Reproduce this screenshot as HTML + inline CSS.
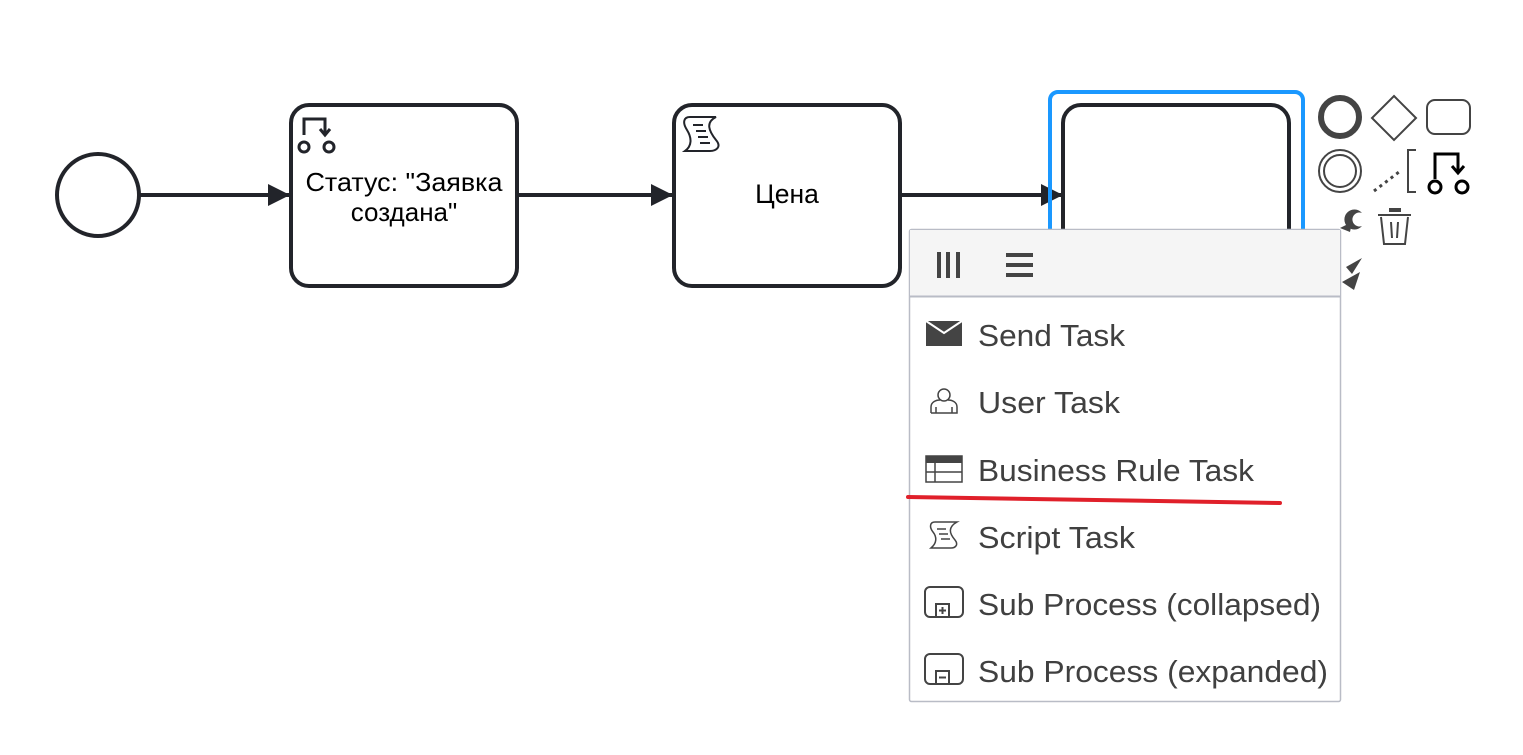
<!DOCTYPE html>
<html><head><meta charset="utf-8"><style>
html,body{margin:0;padding:0;background:#fff;}
svg{display:block;}
</style></head><body>
<svg width="1523" height="755" viewBox="0 0 1523 755" xmlns="http://www.w3.org/2000/svg">
<defs>
<marker id="ar" viewBox="0 0 20 20" refX="20" refY="10" markerWidth="22" markerHeight="22" markerUnits="userSpaceOnUse" orient="auto">
<path d="M0,0 L20,10 L0,20 Z" fill="#22242a"/>
</marker>
</defs>
<circle cx="98" cy="195" r="41" fill="#fff" stroke="#22242a" stroke-width="4"/>
<g stroke="#22242a" stroke-width="4" fill="none">
<line x1="140" y1="195" x2="290" y2="195" marker-end="url(#ar)"/>
<line x1="518" y1="195" x2="673" y2="195" marker-end="url(#ar)"/>
<line x1="901" y1="195" x2="1063" y2="195" marker-end="url(#ar)"/>
</g>
<rect x="291" y="105" width="226" height="181" rx="18" fill="#fff" stroke="#22242a" stroke-width="4"/>
<g stroke="#22242a" stroke-width="3" fill="none">
<path d="M304,135 V119 H325 V134"/><path d="M320,129 L325,135 L330,129"/>
<circle cx="304" cy="147" r="5"/><circle cx="329" cy="147" r="5"/>
</g>
<text x="404" y="191" font-family="Liberation Sans, sans-serif" font-size="26" text-anchor="middle" fill="#000" textLength="197" lengthAdjust="spacingAndGlyphs">Статус: "Заявка</text>
<text x="404" y="221" font-family="Liberation Sans, sans-serif" font-size="26" text-anchor="middle" fill="#000">создана"</text>
<rect x="674" y="105" width="226" height="181" rx="18" fill="#fff" stroke="#22242a" stroke-width="4"/>
<g stroke="#22242a" stroke-width="2" fill="none">
<path d="M690,117 H716 C706,122 708,130 716,140 C722,147 716,151 710,151 H685 C692,146 692,138 687,130 C682,122 684,117 690,117Z"/>
<line x1="693" y1="125" x2="703" y2="125"/><line x1="696" y1="131" x2="706" y2="131"/><line x1="698" y1="137" x2="708" y2="137"/><line x1="700" y1="143" x2="710" y2="143"/>
</g>
<text x="787" y="203" font-family="Liberation Sans, sans-serif" font-size="26.5" text-anchor="middle" fill="#000">Цена</text>
<rect x="1050" y="92" width="253" height="200" rx="8" fill="none" stroke="#1a98ff" stroke-width="4"/>
<rect x="1063" y="105" width="226" height="181" rx="18" fill="#fff" stroke="#22242a" stroke-width="4"/>
<circle cx="1340" cy="117" r="19" fill="none" stroke="#444" stroke-width="6"/>
<path d="M1394,96 L1416,118 L1394,140 L1372,118 Z" fill="none" stroke="#444" stroke-width="2"/>
<rect x="1427" y="100" width="43" height="34" rx="8" fill="none" stroke="#444" stroke-width="2"/>
<circle cx="1340" cy="171" r="21" fill="none" stroke="#444" stroke-width="2"/>
<circle cx="1340" cy="171" r="16" fill="none" stroke="#444" stroke-width="2"/>
<line x1="1374" y1="191" x2="1399" y2="172" stroke="#444" stroke-width="3" stroke-dasharray="3,4"/>
<path d="M1416,150 H1408 V192 H1416" fill="none" stroke="#444" stroke-width="2"/>
<g stroke="#000" stroke-width="3" fill="none">
<path d="M1435,179 V154 H1458 V172"/><path d="M1452,166 L1458,173 L1464,166"/>
<circle cx="1435" cy="187" r="6"/><circle cx="1462" cy="187" r="6"/>
</g>
<path d="M1362,213 A10,10 0 1,0 1362,226 A7,7 0 1,1 1362,213Z" fill="#444"/>
<path d="M1340,228 L1352,222 L1350,232Z" fill="#444"/>
<g stroke="#444" stroke-width="2" fill="none">
<path d="M1378,215 H1411"/><path d="M1390,212 V209 H1400 V212" fill="#444"/>
<path d="M1381,217 L1384,244 H1405 L1408,217"/>
<line x1="1391" y1="222" x2="1392" y2="238"/><line x1="1398" y1="222" x2="1397" y2="238"/>
</g>
<path d="M1346,267 L1362,258 L1352,274Z M1342,282 L1360,272 L1354,290Z" fill="#444"/>
<rect x="909.5" y="229.5" width="431" height="472" rx="2" fill="#fff" stroke="#b9bcc6" stroke-width="1.5"/>
<rect x="910" y="230" width="430" height="66" fill="#f5f5f5"/>
<line x1="909" y1="296.5" x2="1341" y2="296.5" stroke="#b9bcc6" stroke-width="2"/>
<g fill="#444">
<rect x="937" y="252" width="4" height="26"/><rect x="946" y="252" width="4" height="26"/><rect x="956" y="252" width="4" height="26"/>
<rect x="1006" y="253" width="27" height="4"/><rect x="1006" y="263" width="27" height="4"/><rect x="1006" y="273" width="27" height="4"/>
</g>
<path d="M926,321 H962 V346 H926Z" fill="#444"/>
<path d="M926,321 L944,333 L962,321" fill="none" stroke="#fff" stroke-width="2"/>
<g stroke="#444" stroke-width="1.5" fill="none">
<circle cx="944" cy="395" r="6"/>
<path d="M931,413 V407 C931,402 936,400 940,400 M948,400 C952,400 957,402 957,407 V413 H931"/>
<path d="M936,413 V407 M952,413 V407"/>
</g>
<rect x="926" y="456" width="36" height="26" fill="none" stroke="#444" stroke-width="1.5"/>
<rect x="926" y="456" width="36" height="7" fill="#444"/>
<line x1="926" y1="472" x2="962" y2="472" stroke="#444" stroke-width="1.5"/><line x1="935" y1="463" x2="935" y2="482" stroke="#444" stroke-width="1.5"/>
<g stroke="#444" stroke-width="1.5" fill="none">
<path d="M935,522 H957 C948,527 949,533 955,540 C959,545 955,548 951,548 H931 C937,543 937,537 933,532 C929,527 930,522 935,522Z"/>
<line x1="937" y1="529" x2="946" y2="529"/><line x1="939" y1="534" x2="948" y2="534"/><line x1="941" y1="539" x2="950" y2="539"/>
</g>
<g stroke="#444" stroke-width="2" fill="none">
<rect x="925" y="587" width="38" height="30" rx="5"/><rect x="936" y="604" width="13" height="13"/>
<path d="M939,610.5 H946 M942.5,607 V614"/>
<rect x="925" y="654" width="38" height="30" rx="5"/><rect x="936" y="671" width="13" height="13"/>
<path d="M939,677.5 H946"/>
</g>
<g font-family="Liberation Sans, sans-serif" font-size="31" fill="#404040">
<text x="978" y="346" textLength="147" lengthAdjust="spacingAndGlyphs">Send Task</text>
<text x="978" y="413" textLength="142" lengthAdjust="spacingAndGlyphs">User Task</text>
<text x="978" y="481" textLength="276" lengthAdjust="spacingAndGlyphs">Business Rule Task</text>
<text x="978" y="548" textLength="157" lengthAdjust="spacingAndGlyphs">Script Task</text>
<text x="978" y="615" textLength="343" lengthAdjust="spacingAndGlyphs">Sub Process (collapsed)</text>
<text x="978" y="682" textLength="350" lengthAdjust="spacingAndGlyphs">Sub Process (expanded)</text>
</g>
<path d="M908,497 Q1100,500 1280,503" fill="none" stroke="#e0202a" stroke-width="4" stroke-linecap="round"/>
</svg>
</body></html>
